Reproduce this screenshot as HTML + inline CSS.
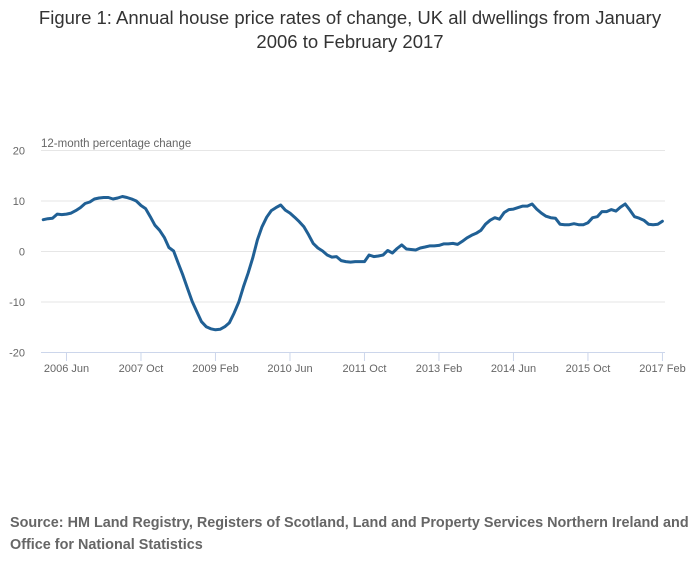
<!DOCTYPE html>
<html><head><meta charset="utf-8"><style>
body{margin:0;background:#fff;font-family:"Liberation Sans",sans-serif}
#wrap{position:relative;width:700px;height:574px;overflow:hidden}
#title{position:absolute;left:0;top:6px;width:700px;text-align:center;font-size:18.5px;line-height:24px;color:#333}
#src{position:absolute;left:10px;top:512px;font-size:14.4px;font-weight:bold;color:#666;line-height:22px;white-space:nowrap}
</style></head><body>
<div id="wrap">
<div id="title">Figure 1: Annual house price rates of change, UK all dwellings from January<br>2006 to February 2017</div>
<svg id="chart" width="700" height="574" style="position:absolute;left:0;top:0"></svg>
<div id="src">Source: HM Land Registry, Registers of Scotland, Land and Property Services Northern Ireland and<br>Office for National Statistics</div>
</div>
<script>
const yTicks=[20,10,0,-10,-20];
const xTickLabels=["2006 Jun","2007 Oct","2009 Feb","2010 Jun","2011 Oct","2013 Feb","2014 Jun","2015 Oct","2017 Feb"];
const xTickIndex=[5,21,37,53,69,85,101,117,133];
const values=[
6.3,6.5,6.6,7.4,7.3,7.4,7.6,8.1,8.7,9.5,9.8,10.4,
10.6,10.7,10.7,10.4,10.6,10.9,10.7,10.4,10.0,9.1,8.5,6.9,
5.2,4.2,2.8,0.8,0.1,-2.3,-4.7,-7.3,-9.9,-11.9,-13.9,-14.9,
-15.3,-15.5,-15.4,-14.9,-14.1,-12.2,-10.0,-7.0,-4.3,-1.3,2.3,4.9,
6.8,8.1,8.7,9.2,8.2,7.6,6.8,5.9,4.9,3.3,1.6,0.7,
0.1,-0.7,-1.1,-1.0,-1.8,-2.0,-2.1,-2.0,-2.0,-2.0,-0.7,-1.0,
-0.9,-0.7,0.2,-0.3,0.6,1.3,0.5,0.4,0.3,0.7,0.9,1.1,
1.1,1.2,1.5,1.5,1.6,1.4,2.0,2.7,3.2,3.6,4.2,5.4,
6.2,6.7,6.4,7.7,8.3,8.4,8.7,9.0,9.0,9.4,8.4,7.6,
7.0,6.7,6.6,5.4,5.3,5.3,5.5,5.3,5.3,5.7,6.7,6.9,
7.9,7.9,8.3,8.0,8.8,9.4,8.2,6.9,6.6,6.2,5.4,5.3,
5.4,6.0];
const NS="http://www.w3.org/2000/svg";
const svg=document.getElementById('chart');
const x=i=>43.2+i*4.656;
const y=v=>251.5-v*5.05;
function mk(t,a){const e=document.createElementNS(NS,t);for(const k in a)e.setAttribute(k,a[k]);svg.appendChild(e);return e;}
yTicks.forEach(v=>{
  const g=mk('line',{x1:41,x2:665,y1:y(v),y2:y(v),stroke:v===-20?'#ccd6eb':'#e6e6e6','stroke-width':1});
  
  
  const t=mk('text',{x:25,y:y(v)+4,'text-anchor':'end','font-size':11,fill:'#666','font-family':'Liberation Sans, sans-serif'});
  t.textContent=v;
  
  
});
const yt=mk('text',{x:41,y:147,'font-size':11.5,fill:'#666','font-family':'Liberation Sans, sans-serif'});
yt.textContent='12-month percentage change';


xTickIndex.forEach((idx,k)=>{
  const tk=mk('line',{x1:x(idx),x2:x(idx),y1:352,y2:361,stroke:'#ccd6eb'});
  
  
  const t=mk('text',{x:x(idx),y:372,'text-anchor':'middle','font-size':11,fill:'#666','font-family':'Liberation Sans, sans-serif'});
  t.textContent=xTickLabels[k];
  
  
});
const p=mk('path',{d:values.map((v,i)=>(i?'L':'M')+x(i).toFixed(1)+' '+y(v).toFixed(1)).join(''),fill:'none',stroke:'#206095','stroke-width':3,'stroke-linejoin':'round','stroke-linecap':'round'});


</script>
</body></html>
